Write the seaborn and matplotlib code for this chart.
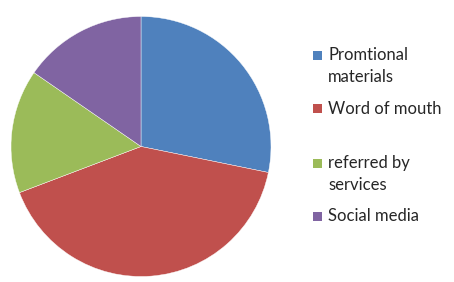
import matplotlib
matplotlib.use("Agg")
import matplotlib.pyplot as plt
import matplotlib.patches as mpatches
import seaborn as sns

# values (share of respondents)
sources = ["Promtional\nmaterials", "Word of mouth", "referred by\nservices", "Social media"]
counts = [11, 16, 6, 6]
colors = ["#4F81BD", "#C0504D", "#9BBB59", "#8064A2"]

# legend entry centres (pixels from top) as laid out in the original
legend_y = [55.5, 108.5, 163, 216]

W, H = 454, 282
sns.set_theme(style="white")
plt.rcParams["font.family"] = ["Lato", "DejaVu Sans"]

fig = plt.figure(figsize=(W / 100, H / 100), dpi=100)
fig.patch.set_facecolor("white")

cx, cy, r = 141, 146.5, 130
ax = fig.add_axes([(cx - r) / W, (H - cy - r) / H, 2 * r / W, 2 * r / H])
ax.pie(
    counts,
    colors=colors,
    startangle=90,
    counterclock=False,
    radius=1.0,
    wedgeprops={"edgecolor": "white", "linewidth": 0.3},
)
ax.set_xlim(-1, 1)
ax.set_ylim(-1, 1)
ax.set_aspect("auto")
ax.axis("off")

line_h = 22
for label, col, yc in zip(sources, colors, legend_y):
    fig.patches.append(
        mpatches.Rectangle(
            (313 / W, (H - yc - 4.5) / H), 9 / W, 9 / H,
            transform=fig.transFigure, facecolor=col, edgecolor="none",
        )
    )
    for i, line in enumerate(label.split("\n")):
        fig.text(328 / W, (H - yc - i * line_h) / H, line,
                 ha="left", va="center", fontsize=12, color="#262626")

fig.savefig("out.png", dpi=100, facecolor="white")
